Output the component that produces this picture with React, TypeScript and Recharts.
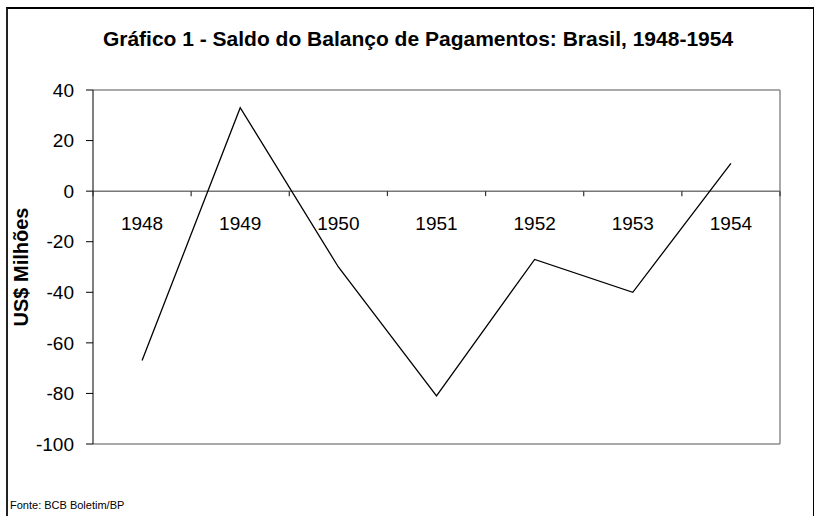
import { LineChart, Line, XAxis, YAxis, ReferenceLine, CartesianGrid } from "recharts";

const years = ["1948", "1949", "1950", "1951", "1952", "1953", "1954"];
const saldo = [-67, 33, -30, -81, -27, -40, 11];
const yTicks = [-100, -80, -60, -40, -20, 0, 20, 40];

const data = years.map((year, i) => ({ year, saldo: saldo[i] }));

const W = 814;
const H = 516;
const margin = { top: 90, right: 34, bottom: 71, left: 0 };
const xAxisHeight = 1;
const yAxisWidth = 93;
const plotW = W - margin.left - margin.right - yAxisWidth;
const plotH = H - margin.top - margin.bottom - xAxisHeight;
const band = plotW / years.length;
const yMin = yTicks[0];
const yMax = yTicks[yTicks.length - 1];
const zeroY = margin.top + (plotH * yMax) / (yMax - yMin);

const font = "'Liberation Sans', Arial, sans-serif";

function YearTick(props: any) {
  const { x, index, payload } = props;
  const last = index === years.length - 1;
  return (
    <g>
      <line x1={x - band / 2} x2={x - band / 2} y1={zeroY} y2={zeroY + 5} stroke="#333" strokeWidth={1.2} />
      {last && <line x1={x + band / 2} x2={x + band / 2} y1={zeroY} y2={zeroY + 5} stroke="#333" strokeWidth={1.2} />}
      <text x={x} y={zeroY + 39} textAnchor="middle" fontSize={19} fill="#000" fontFamily={font}>
        {payload.value}
      </text>
    </g>
  );
}

export default function App() {
  return (
    <div style={{ position: "absolute", left: 0, top: 0, width: W, height: H, background: "#fff", fontFamily: font }}>
      <div
        style={{
          position: "absolute",
          left: 6,
          top: 7,
          width: 805,
          height: 510,
          borderLeft: "2px solid #222",
          borderTop: "2px solid #000",
          borderRight: "2px solid #000",
        }}
      />
      <div
        style={{
          position: "absolute",
          left: 0,
          width: 836,
          top: 27,
          textAlign: "center",
          fontSize: 21,
          fontWeight: "bold",
          color: "#000",
        }}
      >
        Gráfico 1 - Saldo do Balanço de Pagamentos: Brasil, 1948-1954
      </div>
      <div
        style={{
          position: "absolute",
          left: 21,
          top: 267,
          transform: "translate(-50%, -50%) rotate(-90deg)",
          fontSize: 20,
          fontWeight: "bold",
          whiteSpace: "nowrap",
          color: "#000",
        }}
      >
        US$ Milhões
      </div>
      <div style={{ position: "absolute", left: 10, top: 499, fontSize: 11, color: "#000" }}>Fonte: BCB Boletim/BP</div>
      <div style={{ position: "absolute", left: 0, top: 0 }}>
        <LineChart width={W} height={H} data={data} margin={margin}>
          <CartesianGrid
            stroke="#8c8c8c"
            strokeWidth={1.5}
            horizontalCoordinatesGenerator={({ offset }: any) => [offset.top, offset.top + offset.height]}
            verticalCoordinatesGenerator={({ offset }: any) => [offset.left + offset.width]}
          />
          <ReferenceLine y={0} stroke="#777" strokeWidth={1.5} />
          <XAxis
            dataKey="year"
            height={xAxisHeight}
            padding={{ left: band / 2, right: band / 2 }}
            axisLine={false}
            tickLine={false}
            interval={0}
            tick={(p: any) => <YearTick {...p} />}
          />
          <YAxis
            width={yAxisWidth}
            domain={[yMin, yMax]}
            ticks={yTicks}
            interval={0}
            stroke="#000"
            tickSize={7}
            tickMargin={12}
            tick={{ fill: "#000", fontSize: 19, fontFamily: font }}
          />
          <Line
            type="linear"
            dataKey="saldo"
            stroke="#000"
            strokeWidth={1.3}
            dot={false}
            isAnimationActive={false}
          />
        </LineChart>
      </div>
    </div>
  );
}
